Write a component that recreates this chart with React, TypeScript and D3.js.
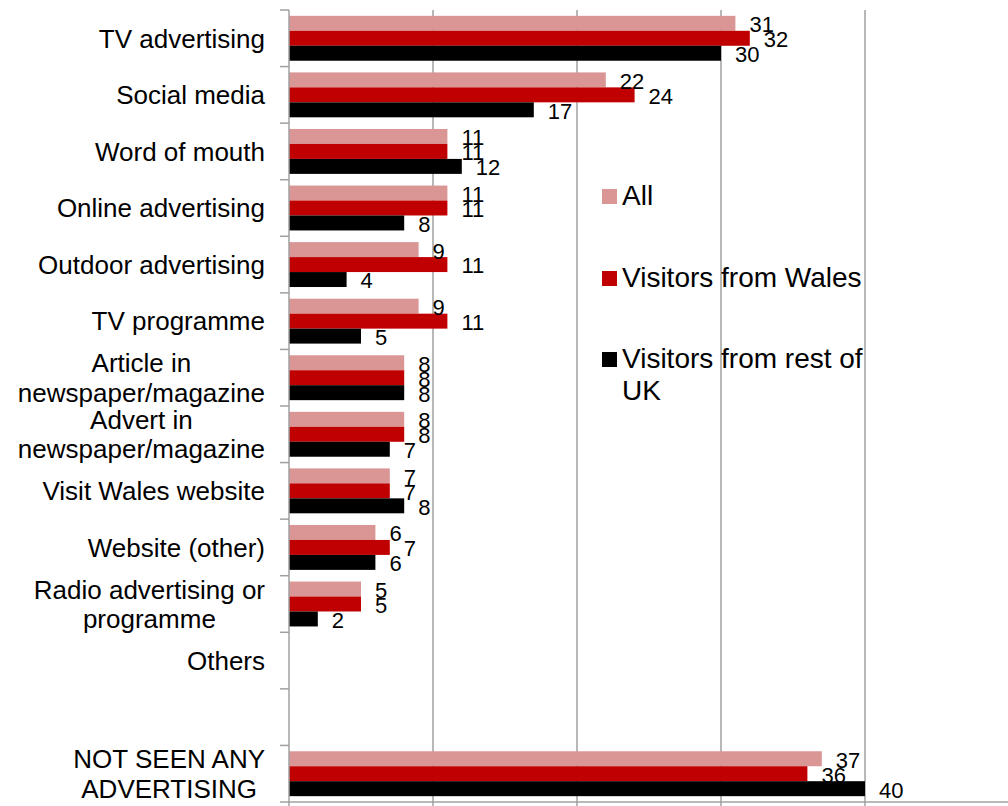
import React, { useEffect, useRef } from 'react';
import * as d3 from 'd3';

const categories: string[] = [
  'TV advertising',
  'Social media',
  'Word of mouth',
  'Online advertising',
  'Outdoor advertising',
  'TV programme',
  'Article in\nnewspaper/magazine',
  'Advert in\nnewspaper/magazine',
  'Visit Wales website',
  'Website (other)',
  'Radio advertising or\nprogramme',
  'Others',
  '',
  'NOT SEEN ANY\nADVERTISING',
];

const allValues: (number | null)[] = [31, 22, 11, 11, 9, 9, 8, 8, 7, 6, 5, null, null, 37];
const walesValues: (number | null)[] = [32, 24, 11, 11, 11, 11, 8, 8, 7, 7, 5, null, null, 36];
const restValues: (number | null)[] = [30, 17, 12, 8, 4, 5, 8, 7, 8, 6, 2, null, null, 40];

const seriesNames: string[] = ['All', 'Visitors from Wales', 'Visitors from rest of UK'];
const seriesColors: string[] = ['#D99694', '#C00000', '#000000'];
const seriesValues = [allValues, walesValues, restValues];

const xTicks: number[] = [0, 10, 20, 30, 40, 50];

const W = 1008;
const H = 806;
const FONT = '"Liberation Sans", Arial, sans-serif';

export default function App() {
  const ref = useRef<SVGSVGElement | null>(null);

  useEffect(() => {
    const svg = d3.select(ref.current);
    svg.selectAll('*').remove();

    const plotLeft = 289;
    const plotTop = 10;
    const plotBottom = 802;

    const x = d3.scaleLinear().domain([0, 50]).range([plotLeft, plotLeft + 720]);
    const y = d3
      .scaleBand<number>()
      .domain(categories.map((_, i) => i))
      .range([plotTop, plotBottom])
      .paddingInner(0)
      .paddingOuter(0);
    const sub = d3
      .scaleBand<number>()
      .domain([0, 1, 2])
      .range([0, y.bandwidth()])
      .paddingInner(0)
      .paddingOuter(0.39);

    const gridColor = '#a0a0a0';

    // vertical gridlines
    svg
      .append('g')
      .selectAll('line')
      .data(xTicks.filter((t) => t > 0))
      .join('line')
      .attr('x1', (d) => x(d))
      .attr('x2', (d) => x(d))
      .attr('y1', plotTop)
      .attr('y2', plotBottom)
      .attr('stroke', gridColor)
      .attr('stroke-width', 1.5);

    // bars
    const g = svg.append('g');
    seriesValues.forEach((vals, si) => {
      g.append('g')
        .selectAll('rect')
        .data(vals.map((v, i) => ({ v, i })).filter((d) => d.v !== null))
        .join('rect')
        .attr('x', x(0))
        .attr('y', (d) => (y(d.i) as number) + (sub(si) as number))
        .attr('width', (d) => x(d.v as number) - x(0))
        .attr('height', sub.bandwidth())
        .attr('fill', seriesColors[si]);
    });

    // value labels
    seriesValues.forEach((vals, si) => {
      g.append('g')
        .selectAll('text')
        .data(vals.map((v, i) => ({ v, i })).filter((d) => d.v !== null))
        .join('text')
        .attr('x', (d) => x(d.v as number) + 14)
        .attr('y', (d) => (y(d.i) as number) + (sub(si) as number) + sub.bandwidth() / 2 + 8.9)
        .attr('font-family', FONT)
        .attr('font-size', 22)
        .attr('fill', '#000')
        .text((d) => String(d.v));
    });

    // left axis
    const axisG = svg.append('g');
    axisG
      .append('line')
      .attr('x1', plotLeft)
      .attr('x2', plotLeft)
      .attr('y1', plotTop)
      .attr('y2', plotBottom)
      .attr('stroke', gridColor)
      .attr('stroke-width', 1.5);
    const boundaries = categories.map((_, i) => y(i) as number).concat([plotBottom]);
    axisG
      .selectAll('line.tick')
      .data(boundaries)
      .join('line')
      .attr('class', 'tick')
      .attr('x1', plotLeft - 9)
      .attr('x2', plotLeft)
      .attr('y1', (d) => d)
      .attr('y2', (d) => d)
      .attr('stroke', gridColor)
      .attr('stroke-width', 1.5);

    // bottom axis
    axisG
      .append('line')
      .attr('x1', plotLeft)
      .attr('x2', W)
      .attr('y1', plotBottom)
      .attr('y2', plotBottom)
      .attr('stroke', gridColor)
      .attr('stroke-width', 1.5);
    axisG
      .selectAll('line.xtick')
      .data(xTicks)
      .join('line')
      .attr('class', 'xtick')
      .attr('x1', (d) => x(d))
      .attr('x2', (d) => x(d))
      .attr('y1', plotBottom)
      .attr('y2', plotBottom + 9)
      .attr('stroke', gridColor)
      .attr('stroke-width', 1.5);

    // category labels: lines centered among themselves, block right-aligned
    const labelRight = 265;
    const lineH = 29.5;
    categories.forEach((cat, i) => {
      if (!cat) return;
      const lines = cat.split('\n');
      const t = svg
        .append('text')
        .attr('font-family', FONT)
        .attr('font-size', 26)
        .attr('fill', '#000')
        .attr('text-anchor', 'middle');
      const cy = (y(i) as number) + y.bandwidth() / 2;
      const capH = 26 * 0.716;
      const firstBaseline = cy - ((lines.length - 1) * lineH) / 2 + capH / 2;
      const tspans = lines.map((ln, li) =>
        t.append('tspan').attr('y', firstBaseline + li * lineH).text(ln)
      );
      let maxW = 0;
      tspans.forEach((ts) => {
        const node = ts.node() as SVGTextContentElement;
        maxW = Math.max(maxW, node.getComputedTextLength());
      });
      tspans.forEach((ts) => ts.attr('x', labelRight - maxW / 2));
    });

    // legend
    const legX = 602;
    const legBase = [205, 287, 368];
    const legFont = 28;
    const maxLegW = 250;
    seriesNames.forEach((name, si) => {
      const base = legBase[si];
      svg
        .append('rect')
        .attr('x', legX)
        .attr('y', base - 16)
        .attr('width', 15)
        .attr('height', 15)
        .attr('fill', seriesColors[si]);
      const t = svg
        .append('text')
        .attr('font-family', FONT)
        .attr('font-size', legFont)
        .attr('fill', '#000');
      const words = name.split(' ');
      let line: string[] = [];
      let lineNo = 0;
      let ts = t.append('tspan').attr('x', legX + 20).attr('y', base);
      words.forEach((w) => {
        line.push(w);
        ts.text(line.join(' '));
        if ((ts.node() as SVGTextContentElement).getComputedTextLength() > maxLegW && line.length > 1) {
          line.pop();
          ts.text(line.join(' '));
          line = [w];
          lineNo += 1;
          ts = t
            .append('tspan')
            .attr('x', legX + 20)
            .attr('y', base + lineNo * 32)
            .text(w);
        }
      });
    });
  }, []);

  return (
    <svg
      ref={ref}
      width={W}
      height={H}
      style={{ position: 'absolute', left: 0, top: 0, background: '#fff' }}
    />
  );
}
